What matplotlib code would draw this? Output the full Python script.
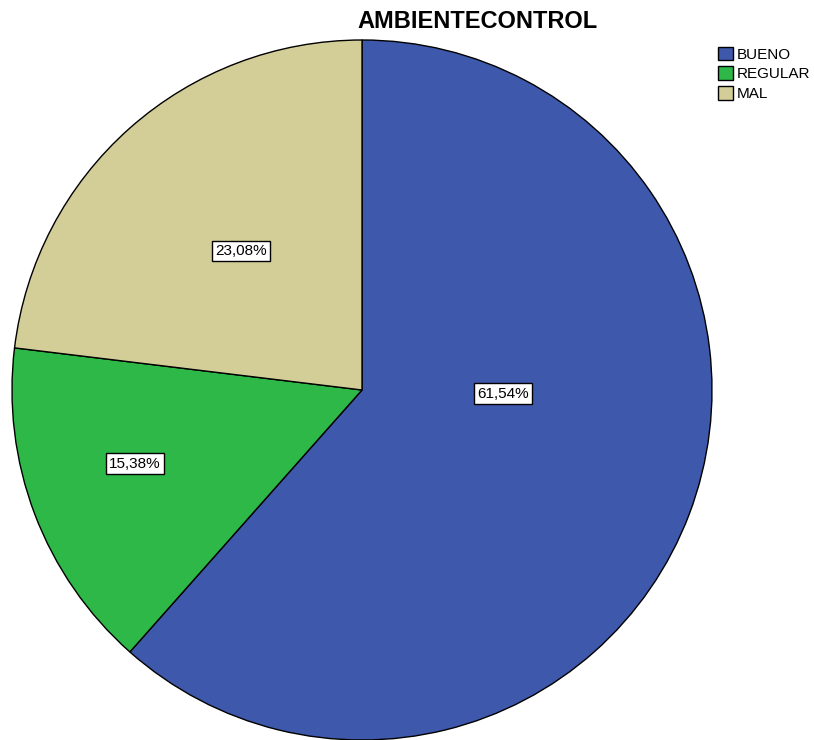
import matplotlib.pyplot as plt

plt.rcParams['font.family'] = ['Liberation Sans', 'DejaVu Sans']

# Category shares (percent)
categories = ['BUENO', 'REGULAR', 'MAL']
shares = [61.54, 15.38, 23.08]
colors = ['#3E58AC', '#2EB848', '#D3CE97']

# label offsets inside each slice, in pie-radius units
label_pos = [(0.403, -0.011), (-0.649, -0.211), (-0.346, 0.397)]

W, H = 814, 740
fig = plt.figure(figsize=(W / 100, H / 100), dpi=100)

# pie centered at (362, 390) px with radius 350 px
cx, cy, r = 362, 390, 350
ax = fig.add_axes([(cx - r) / W, (H - cy - r) / H, 2 * r / W, 2 * r / H])

wedges, texts, autotexts = ax.pie(
    shares, colors=colors, startangle=90, counterclock=False,
    autopct=lambda p: f'{p:.2f}%'.replace('.', ','),
    wedgeprops=dict(edgecolor='black', linewidth=1.0),
    textprops=dict(fontsize=11, color='black'),
)
for t, (x, y) in zip(autotexts, label_pos):
    t.set_position((x, y))
    t.set_ha('center')
    t.set_va('center')
    t.set_bbox(dict(boxstyle='square,pad=0.22', facecolor='white',
                    edgecolor='black', linewidth=1.0))
ax.set_xlim(-1, 1)
ax.set_ylim(-1, 1)

fig.text(478 / W, 1 - 21 / H, 'AMBIENTECONTROL', ha='center', va='center',
         fontsize=17, fontweight='bold')

fig.legend(wedges, categories, loc='upper left',
           bbox_to_anchor=(707 / W, 1 - 36 / H), frameon=False,
           fontsize=11, handlelength=1.0, handleheight=1.0,
           handletextpad=0.25, labelspacing=0.3, borderpad=0.2)

fig.savefig('out.png', dpi=100)
